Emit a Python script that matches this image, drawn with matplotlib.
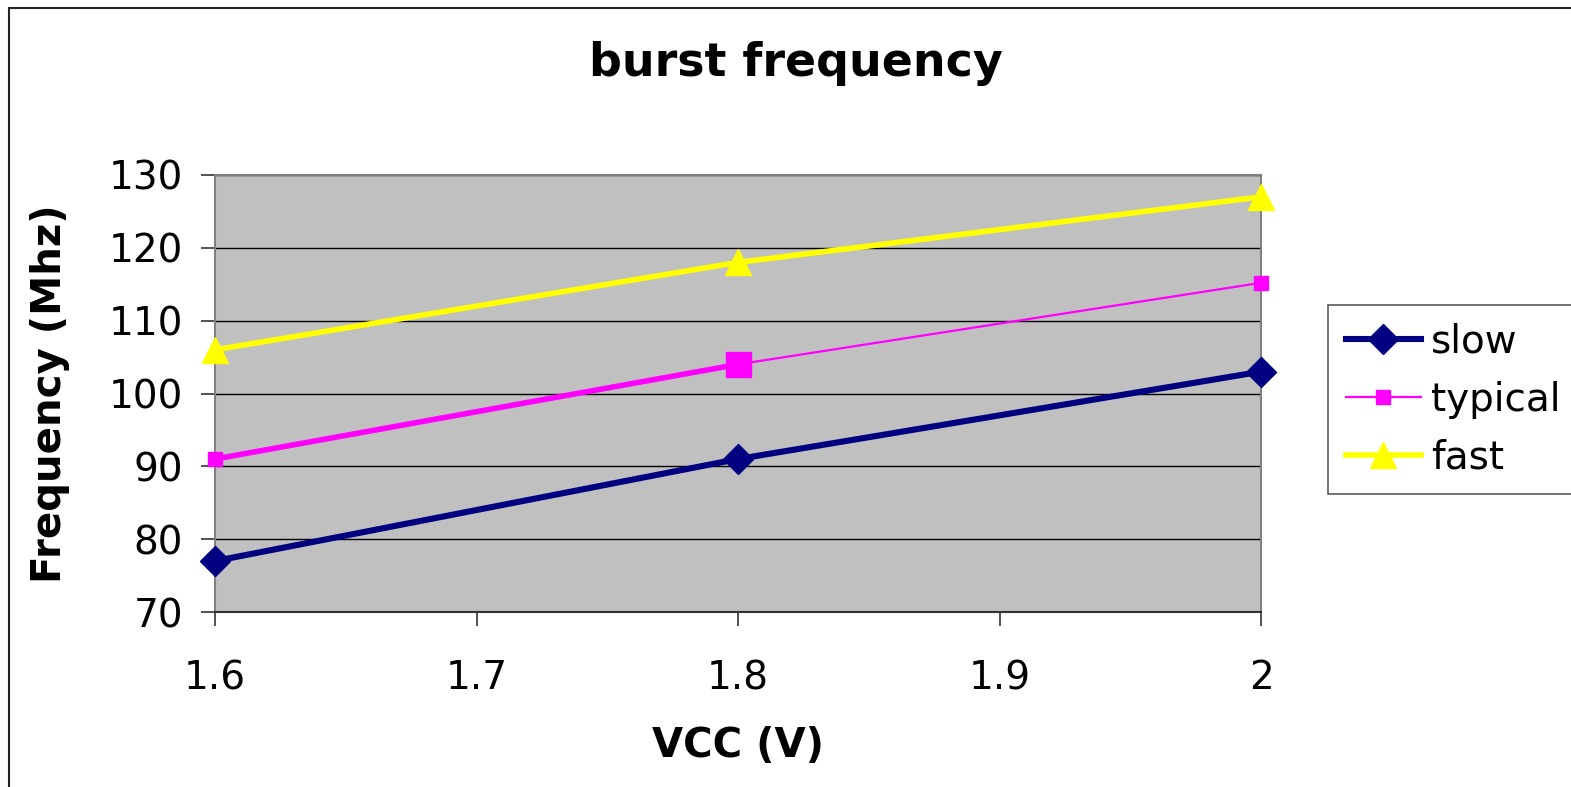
import matplotlib
matplotlib.use("Agg")
import matplotlib.pyplot as plt
from matplotlib.patches import Rectangle
from matplotlib.lines import Line2D

vcc = [1.6, 1.8, 2.0]
slow = [77.0, 91.0, 103.0]
typical = [91.0, 104.0, 115.2]
fast = [106.0, 118.0, 127.0]
x_ticks = [1.6, 1.7, 1.8, 1.9, 2.0]
x_tick_labels = ["1.6", "1.7", "1.8", "1.9", "2"]
y_ticks = [70, 80, 90, 100, 110, 120, 130]

W, H = 1571, 787
fig = plt.figure(figsize=(W / 100, H / 100), dpi=100)
plt.rcParams['font.family'] = ['DejaVu Sans']

# outer chart border
fig.patches.append(Rectangle((9 / W, -0.05), 1.2, 1 - 8 / H + 0.05,
                             transform=fig.transFigure, fill=False,
                             edgecolor='#222222', linewidth=1.5))

ax = fig.add_axes([215 / W, 1 - 612 / H, (1261 - 215) / W, (612 - 175) / H])
ax.set_facecolor('#C0C0C0')
ax.set_xlim(1.6, 2.0)
ax.set_ylim(70, 130)

for y in y_ticks:
    ax.axhline(y, color='black', linewidth=1.0, zorder=1)

navy = '#000080'
magenta = '#FF00FF'
yellow = '#FFFF00'

ax.plot(vcc, slow, color=navy, linewidth=4.4, marker='D', markersize=15,
        label='slow', zorder=3, clip_on=False)
# typical: thick first segment, thin second
ax.plot(vcc[:2], typical[:2], color=magenta, linewidth=4.0, zorder=3, clip_on=False)
ax.plot(vcc[1:], typical[1:], color=magenta, linewidth=1.6, zorder=3, clip_on=False)
ax.plot(vcc[::2], typical[::2], linestyle='none', marker='s', markersize=10.5,
        color=magenta, zorder=4, clip_on=False)
ax.plot(vcc[1:2], typical[1:2], linestyle='none', marker='s', markersize=18,
        color=magenta, zorder=4, clip_on=False)
ax.plot(vcc, fast, color=yellow, linewidth=4.0, marker='^', markersize=19,
        zorder=3, clip_on=False)

ax.set_xticks(x_ticks)
ax.set_xticklabels(x_tick_labels)
ax.set_yticks(y_ticks)
ax.tick_params(axis='both', direction='out', length=10, width=1.2,
               colors='#333333', labelcolor='black', labelsize=28)
ax.tick_params(axis='x', pad=24)
ax.tick_params(axis='y', pad=13)

for side in ['top', 'right', 'left']:
    ax.spines[side].set_color('#808080')
    ax.spines[side].set_linewidth(1.5)
ax.spines['bottom'].set_color('#333333')
ax.spines['bottom'].set_linewidth(1.5)

fig.text(796 / W, 1 - 76 / H, 'burst frequency', ha='center', va='baseline',
         fontsize=33, fontweight='bold')
fig.text(738 / W, 1 - 757 / H, 'VCC (V)', ha='center', va='baseline',
         fontsize=29, fontweight='bold')
fig.text(50 / W, 1 - 394 / H, 'Frequency (Mhz)', ha='center', va='center',
         rotation=90, fontsize=29, fontweight='bold')

handles = [
    Line2D([], [], color=navy, linewidth=4.4, marker='D', markersize=15),
    Line2D([], [], color=magenta, linewidth=1.6, marker='s', markersize=10.5),
    Line2D([], [], color=yellow, linewidth=4.0, marker='^', markersize=19),
]
leg = fig.legend(handles, ['slow', 'typical', 'fast'],
                 loc='upper left', bbox_to_anchor=(1328 / W, 1 - 305 / H),
                 bbox_transform=fig.transFigure, fontsize=28,
                 frameon=True, fancybox=False, handlelength=1.95,
                 handletextpad=0.25, borderpad=0.45, labelspacing=0.52,
                 borderaxespad=0)
leg.get_frame().set_edgecolor('#333333')
leg.get_frame().set_linewidth(1.2)

fig.savefig('out.png', dpi=100)
